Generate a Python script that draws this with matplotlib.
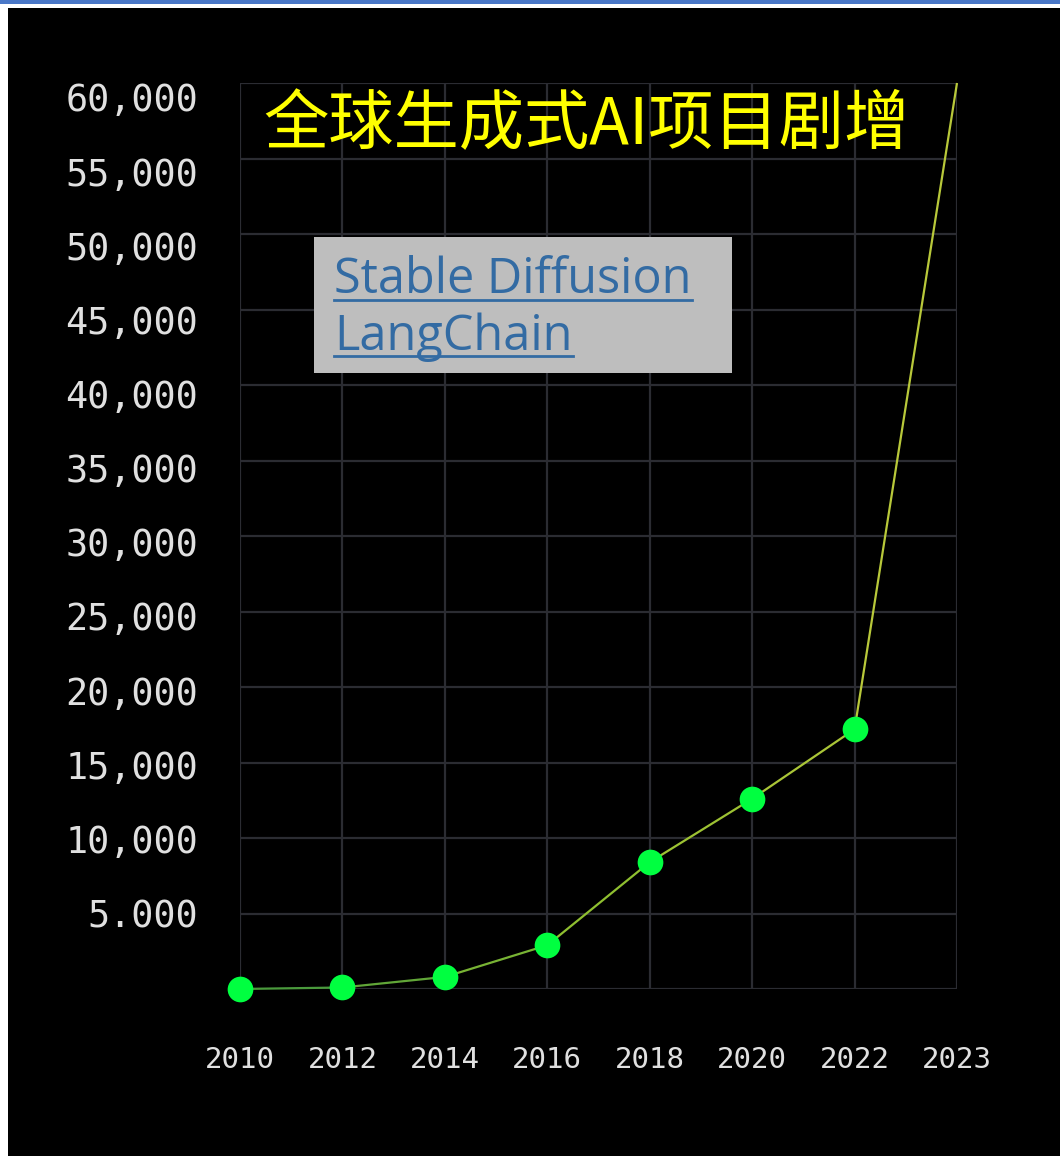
import matplotlib
matplotlib.use("Agg")
import matplotlib.pyplot as plt
import matplotlib.transforms as mtransforms
import numpy as np
from matplotlib.collections import LineCollection
from matplotlib.colors import LinearSegmentedColormap
from matplotlib.patches import Rectangle
from matplotlib.lines import Line2D

# data
years = ["2010", "2012", "2014", "2016", "2018", "2020", "2022", "2023"]
projects = [0, 100, 800, 2900, 8400, 12600, 17200, 60000]
y_ticks = [5000, 10000, 15000, 20000, 25000, 30000, 35000, 40000, 45000, 50000, 55000, 60000]
y_tick_labels = ["5.000", "10,000", "15,000", "20,000", "25,000", "30,000",
                 "35,000", "40,000", "45,000", "50,000", "55,000", "60,000"]
title = "全球生成式AI项目剧增"
box_lines = ["Stable Diffusion", "LangChain"]

W, H = 1060, 1156
fig = plt.figure(figsize=(W / 100, H / 100), dpi=100, facecolor="white")

# black panel, blue strip on top
fig.patches.append(Rectangle((8 / W, 0), 1 - 8 / W, (H - 8) / H, transform=fig.transFigure,
                             facecolor="black", edgecolor="none", zorder=-10))
fig.patches.append(Rectangle((0, (H - 4) / H), 1, 4 / H, transform=fig.transFigure,
                             facecolor="#4a78c8", edgecolor="none", zorder=-10))

ax = fig.add_axes([240 / W, 1 - 989 / H, (957 - 240) / W, (989 - 83) / H])
ax.set_facecolor("black")
x = np.arange(len(years))

# line with green -> yellow-green gradient
pts = np.column_stack([x, projects])
segs = np.stack([pts[:-1], pts[1:]], axis=1)
cmap = LinearSegmentedColormap.from_list("g", ["#4a9a3c", "#8fbf30", "#b8c83a"])
lc = LineCollection(segs, colors=cmap(np.linspace(0, 1, len(segs))), linewidths=1.6, zorder=3)
lc.set_clip_on(False)
ax.add_collection(lc)
ax.plot(x[:-1], projects[:-1], "o", color="#00ff40", markersize=18.5, markeredgewidth=0,
        zorder=4, clip_on=False)

ax.set_xlim(0, len(years) - 1)
ax.set_ylim(0, 60000)
ax.set_xticks(x)
ax.set_xticklabels(years, family="DejaVu Sans Mono", fontsize=21, color="#e0e0e0")
ax.set_yticks([0] + y_ticks)
ax.set_yticklabels([""] + y_tick_labels, family="DejaVu Sans Mono", fontsize=26.5, color="#e0e0e0")
ax.tick_params(axis="x", length=0, pad=41)
ax.tick_params(axis="y", length=0, pad=30)
ax.grid(True, color="#2b2c32", linewidth=1.6)
ax.set_axisbelow(True)
for s in ax.spines.values():
    s.set_visible(False)

# labels in the original sit a little lower the higher they go
for i, lab in enumerate(ax.get_yticklabels()[1:]):
    off = mtransforms.ScaledTranslation(0, -(i * 1.36 - 1) / 100, fig.dpi_scale_trans)
    lab.set_transform(lab.get_transform() + off)

fig.text(586 / W, 1 - 126 / H, title, color="#ffff00", fontsize=47,
         family=["Noto Sans CJK SC", "DejaVu Sans"], ha="center", va="center")

# grey box with underlined link-like text
fig.patches.append(Rectangle((314 / W, 1 - 373 / H), (732 - 314) / W, (373 - 237) / H,
                             transform=fig.transFigure, facecolor="#bebebe", edgecolor="none", zorder=5))
fig.canvas.draw()
renderer = fig.canvas.get_renderer()
for i, s in enumerate(box_lines):
    t = fig.text(334 / W, 1 - (293 + 57 * i) / H, s, color="#336ba3", fontsize=35,
                 family="Open Sans", ha="left", va="baseline", zorder=6)
    bb = t.get_window_extent(renderer)
    yl = 1 - (299.5 + 57 * i) / H
    fig.add_artist(Line2D([bb.x0 / W, bb.x1 / W], [yl, yl], transform=fig.transFigure,
                          color="#336ba3", linewidth=2, zorder=6))

fig.savefig("out.png", dpi=100, facecolor=fig.get_facecolor())
